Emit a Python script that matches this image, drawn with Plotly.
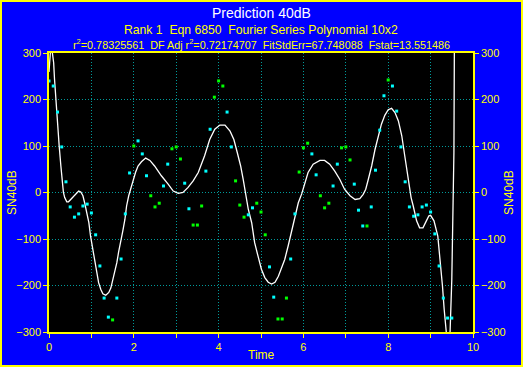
import plotly.graph_objects as go

# ---- data ----
cyan_x = [0.0, 0.1, 0.2, 0.3, 0.4, 0.5, 0.6, 0.7, 0.8, 0.9, 1.0, 1.1, 1.2, 1.3, 1.4, 1.6, 1.7, 1.8, 1.9,
          2.1, 2.2, 2.3, 2.7, 2.8, 3.2, 3.3, 3.7, 3.8, 4.2, 4.3, 4.7, 4.8, 5.2, 5.3, 5.7, 5.8,
          6.2, 6.3, 6.7, 6.8, 7.2, 7.3, 7.4, 7.6, 7.7, 7.8, 7.9, 8.1, 8.2, 8.3, 8.4, 8.5, 8.6, 8.7,
          8.8, 8.9, 9.0, 9.1, 9.2, 9.3, 9.4, 9.5]
cyan_y = [240, 229, 173, 98, 23, -31, -53, -46, -29, -25, -44, -91, -158, -227, -268, -227, -143, -46, 42,
          111, 83, 36, 14, 61, 20, -35, 46, 136, 173, 98, -48, -33, -160, -225, -143, -46,
          83, 38, 14, 61, 18, -38, -72, -31, 48, 134, 208, 229, 175, 98, 23, -31, -51, -48,
          -31, -27, -42, -89, -158, -227, -270, -270]

green_x = [1.5, 2.0, 2.4, 2.5, 2.6, 2.9, 3.0, 3.1, 3.4, 3.5, 3.6, 3.9, 4.0, 4.1, 4.4, 4.5, 4.6,
           4.9, 5.0, 5.1, 5.4, 5.5, 5.6, 5.9, 6.0, 6.1, 6.4, 6.5, 6.6, 6.9, 7.0, 7.1, 7.5, 8.0]
green_y = [-274, 100, -7, -31, -23, 94, 98, 72, -70, -70, -29, 205, 240, 229, 25, -27, -53,
           -23, -42, -91, -272, -272, -227, 44, 96, 106, -7, -33, -23, 96, 98, 70, -72, 242]

curve_x = [0.0, 0.02, 0.05, 0.08, 0.11, 0.13, 0.16, 0.18, 0.21, 0.24, 0.28, 0.31, 0.34, 0.37, 0.42,
           0.46, 0.51, 0.61, 0.7, 0.75, 0.8, 0.84, 0.89, 0.94, 0.98, 1.03, 1.08, 1.13, 1.17, 1.22,
           1.27, 1.34, 1.41, 1.46, 1.5, 1.55, 1.6, 1.64, 1.69, 1.74, 1.79, 1.83, 1.88, 1.93, 1.98,
           2.04, 2.1, 2.18, 2.28, 2.38, 2.49, 2.65, 2.81, 2.93, 3.05, 3.16, 3.28, 3.4, 3.52, 3.6,
           3.67, 3.79, 3.91, 4.03, 4.15, 4.27, 4.36, 4.44, 4.52, 4.58, 4.62, 4.66, 4.7, 4.78, 4.85,
           4.93, 5.01, 5.09, 5.17, 5.25, 5.33, 5.41, 5.48, 5.56, 5.64, 5.72, 5.8, 5.88, 5.96, 6.04,
           6.11, 6.23, 6.39, 6.5, 6.62, 6.74, 6.86, 6.97, 7.1, 7.22, 7.33, 7.41, 7.47, 7.53, 7.61,
           7.69, 7.77, 7.84, 7.92, 8.0, 8.08, 8.16, 8.24, 8.32, 8.39, 8.47, 8.51, 8.54, 8.59, 8.67,
           8.74, 8.82, 8.9, 8.96, 9.0, 9.08, 9.17, 9.22, 9.28, 9.32, 9.36, 9.4, 9.43, 9.46, 9.5,
           9.52, 9.54, 9.55, 9.56, 9.58]
curve_y = [259, 305, 325, 300, 279, 244, 200, 164, 129, 100, 57, 21, 0, -11, -20,
           -20, -15, -4, 3, 1, -7, -22, -43, -65, -94, -119, -147, -172, -194, -208,
           -218, -221, -215, -205, -190, -172, -151, -129, -108, -83, -58, -29, -7, 10, 25,
           43, 57, 66, 74, 69, 57, 36, 18, 3, -2, 0, 11, 25, 43, 60,
           79, 114, 136, 145, 145, 132, 114, 86, 57, 28, 7, -11, -36, -65, -108,
           -137, -165, -183, -193, -197, -193, -180, -162, -144, -115, -83, -51, -22, -3, 21,
           43, 61, 69, 69, 61, 46, 28, 7, -7, -15, -13, -4, 7, 28, 57,
           93, 122, 147, 166, 178, 181, 172, 154, 122, 79, 28, 7, -11, -29, -61,
           -76, -76, -61, -50, -49, -61, -94, -137, -201, -251, -298, -330, -330, -298, -187,
           -76, 0, 86, 300, 400]

x_tickvals = [0, 2, 4, 6, 8, 10]
y_tickvals = [-300, -200, -100, 0, 100, 200, 300]

title = "Prediction 40dB"
subtitle1 = "Rank 1  Eqn 6850  Fourier Series Polynomial 10x2"
subtitle2 = "r<sup>2</sup>=0.78325561  DF Adj r<sup>2</sup>=0.72174707  FitStdErr=67.748088  Fstat=13.551486"
y_label = "SN40dB"
x_label = "Time"

YEL = "#FFFF00"
GRID = "#009A9A"
FONT = "Liberation Sans, Arial, sans-serif"

W, H = 523, 367
L, R, T, B = 49, 50, 53, 35
pw, ph = W - L - R, H - T - B


def px(xp):
    return (xp - L) / pw


def py(yp):
    return 1 - (yp - T) / ph


fig = go.Figure()
fig.add_trace(go.Scatter(x=curve_x, y=curve_y, mode="lines",
                         line=dict(color="white", width=1.3), hoverinfo="skip"))
fig.add_trace(go.Scatter(x=cyan_x, y=cyan_y, mode="markers",
                         marker=dict(symbol="square", size=3, color="#00FFFF", line=dict(width=0))))
fig.add_trace(go.Scatter(x=green_x, y=green_y, mode="markers",
                         marker=dict(symbol="square", size=3, color="#00FF00", line=dict(width=0))))
# empty trace so that the right-hand axis is drawn
fig.add_trace(go.Scatter(x=[], y=[], yaxis="y2", mode="markers", hoverinfo="skip"))

axis_common = dict(showline=True, linecolor=YEL, linewidth=1.5, ticks="outside", ticklen=4,
                   tickcolor=YEL, tickwidth=1, tickfont=dict(color=YEL, size=11, family=FONT),
                   zeroline=False)

ann = dict(xref="paper", yref="paper", showarrow=False, xanchor="center", yanchor="middle")

fig.update_layout(
    width=W, height=H, margin=dict(l=L, r=R, t=T, b=B, autoexpand=False),
    paper_bgcolor="#0000FF", plot_bgcolor="black", showlegend=False,
    xaxis=dict(range=[0, 10], tickvals=x_tickvals, mirror=True,
               showgrid=True, gridcolor=GRID, griddash="1px,2px", gridwidth=1,
               minor=dict(dtick=1, tick0=0, ticks="outside", ticklen=4, tickcolor=YEL,
                          showgrid=True, gridcolor=GRID, griddash="1px,2px", gridwidth=1),
               **axis_common),
    yaxis=dict(range=[-300, 300], tickvals=y_tickvals, mirror=True,
               showgrid=True, gridcolor=GRID, griddash="1px,2px", gridwidth=1,
               **axis_common),
    yaxis2=dict(range=[-300, 300], tickvals=y_tickvals, overlaying="y", side="right",
                showgrid=False, **axis_common),
    annotations=[
        dict(text=title, x=0.5, y=py(13), font=dict(color="white", size=14, family=FONT), **ann),
        dict(text=subtitle1, x=0.5, y=py(30), font=dict(color=YEL, size=12.2, family=FONT), **ann),
        dict(text=subtitle2, x=0.5, y=py(44), font=dict(color=YEL, size=10.8, family=FONT), **ann),
        dict(text=x_label, x=px(261), y=py(355), font=dict(color=YEL, size=12, family=FONT), **ann),
        dict(text=y_label, x=px(12), y=py(193), textangle=-90,
             font=dict(color=YEL, size=12, family=FONT), **ann),
        dict(text=y_label, x=px(509), y=py(193), textangle=-90,
             font=dict(color=YEL, size=12, family=FONT), **ann),
    ],
)

# outer yellow frame
fig.add_shape(type="rect", xref="paper", yref="paper",
              x0=px(1), x1=px(W - 1), y0=py(H - 1), y1=py(1),
              line=dict(color=YEL, width=2), layer="above")

fig.write_html("out.html", config={"displayModeBar": False},
               post_script="document.body.style.margin='0';document.body.style.padding='0';")
